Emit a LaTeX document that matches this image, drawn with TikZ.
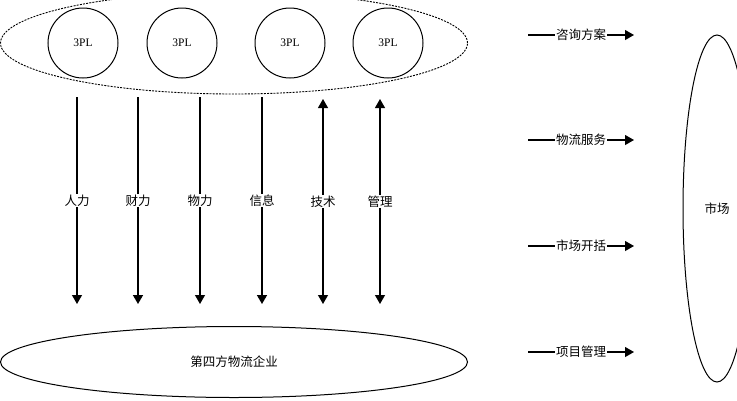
\documentclass[tikz,border=0pt]{standalone}
\usepackage{fontspec}
\setmainfont{Liberation Serif}
\newfontfamily\cjk{Noto Sans CJK SC}
\usetikzlibrary{shapes.geometric,arrows.meta}
\tikzset{
  cn/.style={font=\cjk\fontsize{12.5}{14}\selectfont},
  lbl/.style={cn,fill=white,inner sep=1pt},
  pl/.style={draw,circle,minimum size=70pt,inner sep=0pt,line width=1pt,font=\fontsize{11.5}{13}\selectfont},
  ell/.style={draw,ellipse,inner sep=0pt,line width=1pt},
  vline/.style={line width=1.1pt},
  thick2/.style={line width=1.6pt},
  tip/.style={-{Triangle[width=10pt,length=9pt]}},
  tips/.style={{Triangle[width=10pt,length=9pt]}-{Triangle[width=10pt,length=9pt]}},
}
\begin{document}
\begin{tikzpicture}[x=1pt,y=-1pt]
\useasboundingbox (0,0) rectangle (737,400);
\clip (0,0) rectangle (737,400);
\fill[white] (0,0) rectangle (737,400);
% top dashed ellipse
\node[ell,minimum width=467pt,minimum height=102pt,line width=0.9pt,dash pattern=on 2pt off 1.2pt] (grp) at (234,43) {};
\node[pl] (p1) at (83,43) {3PL};
\node[pl] (p2) at (182,43) {3PL};
\node[pl] (p3) at (290,43) {3PL};
\node[pl] (p4) at (388,43) {3PL};
% bottom ellipse
\node[ell,cn,minimum width=467pt,minimum height=71pt] (fpl) at (234,362) {第四方物流企业};
% market ellipse
\node[ell,cn,minimum width=68pt,minimum height=347pt] (mkt) at (717,208.5) {市场};
% vertical arrows
\foreach \n/\x/\t/\s in {a/77/人力/vline,b/138/财力/thick2,c/200/物力/vline,d/262/信息/thick2}{
  \coordinate (\n s) at (\x,97);
  \coordinate (\n e) at (\x,304);
  \draw[\s,tip] (\n s) -- node[lbl] (\n l) {\t} (\n e);
}
\foreach \n/\x/\t in {e/323/技术,f/380/管理}{
  \coordinate (\n s) at (\x,99);
  \coordinate (\n e) at (\x,304);
  \draw[vline,tips] (\n s) -- node[lbl] (\n l) {\t} (\n e);
}
% right arrows
\foreach \n/\y/\t in {g/35/咨询方案,h/140/物流服务,i/246/市场开括,j/352/项目管理}{
  \coordinate (\n s) at (528,\y);
  \coordinate (\n e) at (634,\y);
  \draw[vline,tip] (\n s) -- node[lbl] (\n l) {\t} (\n e);
}
\end{tikzpicture}
\end{document}
